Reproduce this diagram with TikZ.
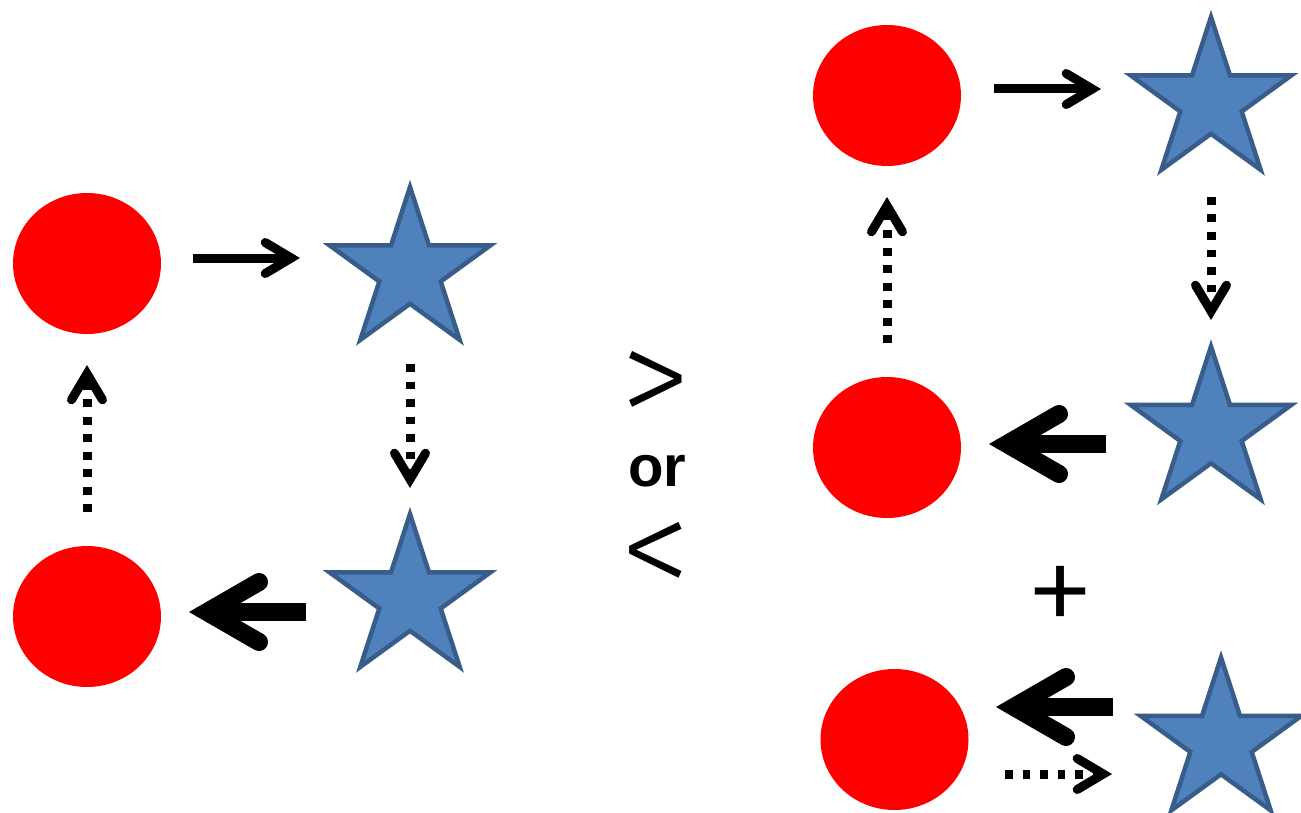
\documentclass[tikz,border=0pt]{standalone}
\usepackage{fontspec}
\setmainfont{Liberation Sans}
\newfontfamily\symfont{Fira Sans}[UprightFont=* Light]
\usetikzlibrary{shapes.geometric,arrows.meta}
\definecolor{starfill}{HTML}{4F81BD}
\definecolor{starline}{HTML}{385D8A}
\begin{document}
\begin{tikzpicture}[x=1pt,y=-1pt,
  dot/.style={ellipse,fill=red,minimum width=148pt,minimum height=141pt,inner sep=0pt},
  starnode/.style={star,star points=5,star point ratio=2.618,minimum size=169pt,inner sep=0pt,
    fill=starfill,draw=starline,line width=4.5pt},
  thinarrow/.style={line width=9pt,
    -{Straight Barb[length=26pt,width=31pt,line cap=round,line join=miter]}},
  thickarrow/.style={line width=18pt,
    -{Straight Barb[length=52pt,width=60pt,line cap=round,line join=miter]}},
  dotarrow/.style={thinarrow,dash pattern=on 7.7pt off 9.8pt},
  sym/.style={font=\symfont\fontsize{142}{142}\selectfont,inner sep=0pt},
  word/.style={font=\fontsize{58}{58}\selectfont\bfseries,inner sep=0pt}]
\useasboundingbox (0,0) rectangle (1301,813);

% left cycle
\node[dot] (cA) at (87,263.5) {};
\node[starnode] (sA) at (410,271.5) {};
\node[starnode] (sB) at (410,598.5) {};
\node[dot] (cB) at (87,616.5) {};

\draw[thinarrow] ([shift={(106,-5.5)}]cA.center) -- ([shift={(-110,-13.5)}]sA.center);
\draw[dotarrow] ([shift={(0,92.5)}]sA.center) -- ([shift={(0,-110.5)}]sB.center);
\draw[thickarrow] ([shift={(-104,13.5)}]sB.center) -- ([shift={(102,-4.5)}]cB.center);
\draw[dotarrow] ([shift={(0,-104.5)}]cB.center) -- ([shift={(0,101.5)}]cA.center);

% comparison signs
\node[sym] (gt) at (656,389) {>};
\node[word] (or) at (657,471) {or};
\node[sym] (lt) at (656,559.5) {<};

% right cycle
\node[dot] (cC) at (887,95.5) {};
\node[starnode] (sC) at (1211,101.5) {};
\node[starnode] (sD) at (1211,431) {};
\node[dot] (cD) at (887,447.5) {};

\draw[thinarrow] ([shift={(107,-6.5)}]cC.center) -- ([shift={(-110,-12.5)}]sC.center);
\draw[dotarrow] ([shift={(0,95.5)}]sC.center) -- ([shift={(0,-111)}]sD.center);
\draw[thickarrow] ([shift={(-105,13)}]sD.center) -- ([shift={(102,-3.5)}]cD.center);
\draw[dotarrow] ([shift={(0,-104.5)}]cD.center) -- ([shift={(0,101.5)}]cC.center);

\node[sym] (plus) at (1060,602.5) {+};

% bottom pair
\node[dot] (cE) at (894.5,739.5) {};
\node[starnode] (sE) at (1221,742) {};

\draw[thickarrow] ([shift={(-108,-35)}]sE.center) -- ([shift={(101.5,-32.5)}]cE.center);
\draw[dotarrow] ([shift={(110.5,34.5)}]cE.center) -- ([shift={(-109,32)}]sE.center);
\end{tikzpicture}
\end{document}
